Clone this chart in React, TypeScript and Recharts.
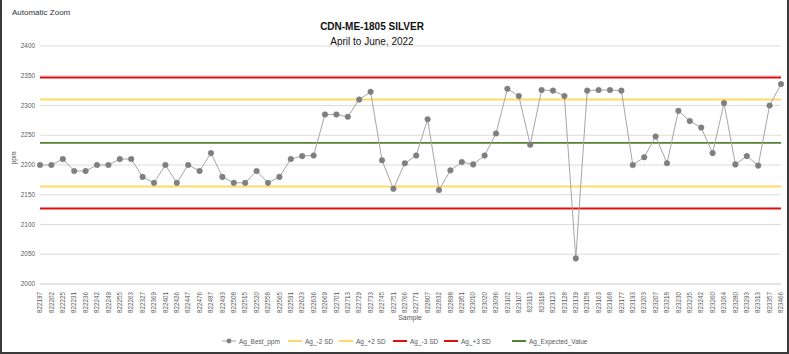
import React from 'react';
import { LineChart, Line, XAxis, YAxis, CartesianGrid } from 'recharts';

const samples = [
  '822197', '822202', '822225', '822231', '822236', '822242', '822249', '822255', '822263', '822327',
  '822369', '822401', '822426', '822447', '822476', '822487', '822493', '822508', '822515', '822520',
  '822558', '822565', '822591', '822623', '822636', '822669', '822701', '822713', '822729', '822733',
  '822745', '822751', '822766', '822771', '822807', '822832', '822898', '822951', '823010', '823020',
  '823096', '823102', '823107', '823113', '823118', '823123', '823128', '823139', '823158', '823163',
  '823168', '823177', '823193', '823203', '823207', '823218', '823230', '823235', '823242', '823260',
  '823264', '823280', '823293', '823313', '823357', '823466',
];

const agBestPpm = [
  2200, 2200, 2210, 2190, 2190, 2200, 2200, 2210, 2210, 2180,
  2170, 2200, 2170, 2200, 2190, 2220, 2180, 2170, 2170, 2190,
  2170, 2180, 2210, 2215, 2216, 2285, 2285, 2281, 2310, 2323,
  2208, 2160, 2203, 2216, 2277, 2158, 2191, 2205, 2201, 2216,
  2253, 2328, 2316, 2234, 2326, 2325, 2316, 2043, 2325, 2326,
  2326, 2325, 2200, 2213, 2248, 2203, 2291, 2274, 2263, 2220,
  2304, 2201, 2215, 2199, 2300, 2336,
];

const agMinus2SD = 2164;
const agPlus2SD = 2310;
const agMinus3SD = 2127;
const agPlus3SD = 2347;
const agExpected = 2237;

const yTicks = [2000, 2050, 2100, 2150, 2200, 2250, 2300, 2350, 2400];

const data = samples.map((s, i) => ({
  sample: s,
  best: agBestPpm[i],
  m2: agMinus2SD,
  p2: agPlus2SD,
  m3: agMinus3SD,
  p3: agPlus3SD,
  ev: agExpected,
}));

const FONT = '"Liberation Sans", Arial, sans-serif';
const YELLOW = '#ffd966';
const RED = '#e01010';
const GREEN = '#548235';
const GRAY_DOT = '#7f7f7f';
const GRAY_LINE = '#a6a6a6';

const XTick = (props: any) => {
  const { x, y, payload } = props;
  const tx = x + 2.1;
  const ty = y + 0;
  return (
    <text
      x={tx}
      y={ty}
      transform={`rotate(-90, ${tx}, ${ty})`}
      textAnchor="end"
      fontSize={6.3}
      fill="#595959"
      fontFamily={FONT}
    >
      {payload.value}
    </text>
  );
};

const YTick = (props: any) => {
  const { y, payload } = props;
  return (
    <text x={35} y={y + 2.2} textAnchor="end" fontSize={6.4} fill="#595959" fontFamily={FONT}>
      {payload.value}
    </text>
  );
};

const legendItems = [
  { label: 'Ag_Best_ppm', color: GRAY_DOT, dot: true, w: 1, x: 222 },
  { label: 'Ag_-2 SD', color: YELLOW, w: 2, x: 288 },
  { label: 'Ag_+2 SD', color: YELLOW, w: 2, x: 339 },
  { label: 'Ag_-3 SD', color: RED, w: 2, x: 393 },
  { label: 'Ag_+3 SD', color: RED, w: 2, x: 444 },
  { label: 'Ag_Expected_Value', color: GREEN, w: 2, x: 512 },
];

export default function App() {
  return (
    <div
      style={{
        position: 'absolute',
        left: 0,
        top: 0,
        width: 789,
        height: 354,
        background: '#fff',
        fontFamily: FONT,
        overflow: 'hidden',
      }}
    >
      <div style={{ position: 'absolute', left: 0, top: 0, width: 2, height: 354, background: '#3a3a3a' }} />
      <div style={{ position: 'absolute', right: 0, top: 0, width: 2, height: 354, background: '#3a3a3a' }} />
      <div style={{ position: 'absolute', left: 0, bottom: 0, width: 789, height: 2, background: '#3a3a3a' }} />
      <div style={{ position: 'absolute', left: 12, top: 8, fontSize: 8, color: '#333' }}>Automatic Zoom</div>
      <div
        style={{
          position: 'absolute',
          left: 172,
          width: 400,
          top: 21,
          textAlign: 'center',
          fontSize: 10,
          fontWeight: 'bold',
          color: '#111',
        }}
      >
        CDN-ME-1805 SILVER
      </div>
      <div
        style={{
          position: 'absolute',
          left: 172,
          width: 400,
          top: 36,
          textAlign: 'center',
          fontSize: 10,
          color: '#111',
        }}
      >
        April to June, 2022
      </div>
      <div
        style={{
          position: 'absolute',
          left: 0,
          width: 820,
          top: 314,
          textAlign: 'center',
          fontSize: 7,
          color: '#595959',
        }}
      >
        Sample
      </div>
      <div
        style={{
          position: 'absolute',
          left: 12.5,
          top: 158,
          transform: 'translate(-50%, -50%) rotate(-90deg)',
          fontSize: 6.8,
          color: '#595959',
        }}
      >
        ppm
      </div>
      <div style={{ position: 'absolute', left: 0, top: 0 }}>
        <LineChart width={789} height={354} data={data} margin={{ top: 46, right: 8, bottom: 0, left: 0 }}>
          <CartesianGrid vertical={false} stroke="#dcdcdc" strokeWidth={1} />
          <XAxis
            dataKey="sample"
            interval={0}
            height={70}
            tick={<XTick />}
            tickLine={false}
            axisLine={{ stroke: '#dcdcdc' }}
          />
          <YAxis
            width={40}
            domain={[2000, 2400]}
            ticks={yTicks}
            tickLine={false}
            axisLine={false}
            tick={<YTick />}
          />
          <Line dataKey="m2" stroke={YELLOW} strokeWidth={2} dot={false} isAnimationActive={false} />
          <Line dataKey="p2" stroke={YELLOW} strokeWidth={2} dot={false} isAnimationActive={false} />
          <Line dataKey="m3" stroke={RED} strokeWidth={2} dot={false} isAnimationActive={false} />
          <Line dataKey="p3" stroke={RED} strokeWidth={2} dot={false} isAnimationActive={false} />
          <Line dataKey="ev" stroke={GREEN} strokeWidth={1.75} dot={false} isAnimationActive={false} />
          <Line
            dataKey="best"
            stroke={GRAY_LINE}
            strokeWidth={1}
            dot={{ r: 2.8, fill: GRAY_DOT, stroke: GRAY_DOT, strokeWidth: 0.5 }}
            isAnimationActive={false}
          />
        </LineChart>
      </div>
      {legendItems.map((it, i) => (
        <div
          key={i}
          style={{
            position: 'absolute',
            left: it.x,
            top: 337,
            display: 'flex',
            alignItems: 'center',
            fontSize: 6.5,
            color: '#595959',
            whiteSpace: 'nowrap',
          }}
        >
          <svg width={14} height={8} style={{ marginRight: 3 }}>
            <line x1={0} y1={4} x2={14} y2={4} stroke={it.dot ? GRAY_LINE : it.color} strokeWidth={it.w} />
            {it.dot && <circle cx={7} cy={4} r={2.4} fill={GRAY_DOT} />}
          </svg>
          <span>{it.label}</span>
        </div>
      ))}
    </div>
  );
}
